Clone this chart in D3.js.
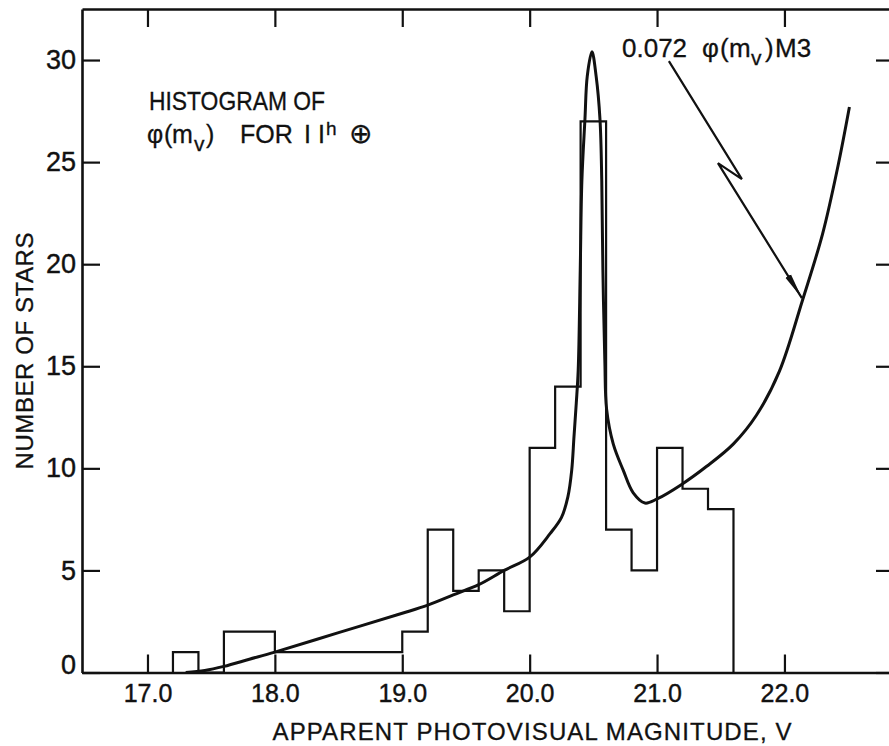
<!DOCTYPE html>
<html>
<head>
<meta charset="utf-8">
<script src="https://cdn.jsdelivr.net/npm/d3@7"></script>
<style>
  html, body { margin: 0; padding: 0; background: #fff; }
  svg { display: block; }
  text { font-family: "Liberation Sans", Arial, sans-serif; fill: #111; }
</style>
</head>
<body>
<svg id="chart" width="889" height="746"></svg>
<script>
// ---- data ----
const binStart = [17.2,17.4,17.6,17.8,18.0,18.2,18.4,18.6,18.8,19.0,19.2,19.4,19.6,19.8,20.0,20.2,20.4,20.6,20.8,21.0,21.2,21.4];
const binCounts = [1,0,2,2,1,1,1,1,1,2,7,4,5,3,11,14,27,7,5,11,9,8];
const binWidth = 0.2;

const curveMag = [17.30,17.45,17.60,17.80,18.00,18.50,19.00,19.20,19.40,19.60,19.80,20.00,20.16,20.25,20.30,20.33,20.348,20.366,20.381,20.397,20.41,20.434,20.452,20.489,20.522,20.552,20.566,20.575,20.59,20.604,20.656,20.735,20.813,20.905,21.00,21.19,21.39,21.60,21.78,21.96,22.14,22.30,22.42,22.51];
const curveVal = [0.0,0.1,0.3,0.65,1.0,1.95,2.9,3.3,3.8,4.3,5.0,5.65,6.8,7.6,8.6,9.9,11.55,13.2,14.8,19.7,24.1,27.1,29.2,30.4,29.2,27.1,24.1,19.7,15.3,12.9,11.2,9.9,8.8,8.3,8.5,9.2,10.1,11.2,12.6,14.75,18.2,21.5,24.8,27.7];

const xTickVals = [17,18,19,20,21,22];
const xTickLabels = ["17.0","18.0","19.0","20.0","21.0","22.0"];
const yTickVals = [0,5,10,15,20,25,30];
const yTickLabels = ["0","5","10","15","20","25","30"];

// annotation arrow path, in data units (magnitude, count)
const arrowMag = [21.093,21.666,21.478,22.137];
const arrowVal = [29.95,24.17,24.95,18.34];

// ---- layout ----
const svg = d3.select("#chart");
const pL = 82, pR = 894, pT = 9, pB = 672.5;

const x = d3.scaleLinear().domain([16.486, 22.86]).range([pL, pR]);
const y = d3.scaleLinear().domain([0, 32.5]).range([pB, pT]);

svg.append("defs").append("marker")
  .attr("id","ah").attr("viewBox","0 0 26 8").attr("refX",26).attr("refY",4)
  .attr("markerWidth",26).attr("markerHeight",8).attr("markerUnits","userSpaceOnUse")
  .attr("orient","auto")
  .append("path").attr("d","M0,0.8 L26,4 L0,7.2 Z").attr("fill","#111");

// axes
function styleAxis(g, showText, fs) {
  g.selectAll(".domain").attr("stroke","#111").attr("stroke-width",2.6);
  g.selectAll(".tick line").attr("stroke","#111").attr("stroke-width",2.2);
  g.selectAll(".tick text").attr("fill","#111").style("font-size", fs + "px")
    .style("font-family","'Liberation Sans', Arial, sans-serif")
    .attr("stroke","#111").attr("stroke-width",0.4);
  if (!showText) g.selectAll(".tick text").remove();
}

const gx = svg.append("g").attr("transform",`translate(0,${pB})`)
  .call(d3.axisBottom(x).tickValues(xTickVals).tickFormat((d,i)=>xTickLabels[i])
        .tickSize(-18).tickSizeOuter(0).tickPadding(12));
styleAxis(gx, true, 25);

const gxt = svg.append("g").attr("transform",`translate(0,${pT})`)
  .call(d3.axisTop(x).tickValues(xTickVals).tickSize(-18).tickSizeOuter(0));
styleAxis(gxt, false, 25);

const gy = svg.append("g").attr("transform",`translate(${pL},0)`)
  .call(d3.axisLeft(y).tickValues(yTickVals).tickFormat((d,i)=>yTickLabels[i])
        .tickSize(-18).tickSizeOuter(0).tickPadding(6));
styleAxis(gy, true, 27);
gy.selectAll(".tick text").filter(d => d === 0).attr("dy","0.05em");

const gyr = svg.append("g").attr("transform",`translate(${pR},0)`)
  .call(d3.axisRight(y).tickValues(yTickVals).tickSize(-18).tickSizeOuter(0));
styleAxis(gyr, false, 26);

// histogram outline (step)
const histPts = [[binStart[0], 0]];
binStart.forEach((b,i)=> histPts.push([b, binCounts[i]]));
histPts.push([binStart[binStart.length-1] + binWidth, 0]);
svg.append("path")
  .datum(histPts)
  .attr("fill","none").attr("stroke","#111").attr("stroke-width",2.2)
  .attr("d", d3.line().x(d=>x(d[0])).y(d=>y(d[1])).curve(d3.curveStepAfter));

// theoretical curve
const cPts = curveMag.map((m,i)=>[m, curveVal[i]]);
svg.append("path")
  .datum(cPts)
  .attr("fill","none").attr("stroke","#111").attr("stroke-width",3).attr("stroke-linejoin","round")
  .attr("d", d3.line().x(d=>x(d[0])).y(d=>y(d[1])).curve(d3.curveCatmullRom.alpha(0.5)));

// annotation arrow
const aPts = arrowMag.map((m,i)=>[m, arrowVal[i]]);
svg.append("path")
  .datum(aPts)
  .attr("fill","none").attr("stroke","#111").attr("stroke-width",2.2)
  .attr("marker-end","url(#ah)")
  .attr("d", d3.line().x(d=>x(d[0])).y(d=>y(d[1])));

// annotation label
const lab = svg.append("text").attr("x",622).attr("y",57).style("font-size","26px")
  .attr("stroke","#111").attr("stroke-width",0.3);
lab.append("tspan").text("0.072");
lab.append("tspan").attr("x",702).text("\u03C6");
lab.append("tspan").attr("x",720).text("(");
lab.append("tspan").attr("x",729).text("m");
lab.append("tspan").attr("x",751).attr("dy",8).style("font-size","21px").text("v");
lab.append("tspan").attr("x",765).attr("dy",-8).text(")");
lab.append("tspan").attr("x",775).text("M3");

// histogram label
svg.append("text").attr("x",149).attr("y",110).style("font-size","25px")
  .attr("stroke","#111").attr("stroke-width",0.3)
  .attr("textLength",176).attr("lengthAdjust","spacingAndGlyphs").text("HISTOGRAM OF");
const l2 = svg.append("text").attr("x",147).attr("y",143).style("font-size","25px")
  .attr("stroke","#111").attr("stroke-width",0.3);
l2.append("tspan").text("\u03C6");
l2.append("tspan").attr("x",164).text("(");
l2.append("tspan").attr("x",172).text("m");
l2.append("tspan").attr("x",194).attr("dy",8).style("font-size","21px").text("v");
l2.append("tspan").attr("x",206).attr("dy",-8).text(")");
l2.append("tspan").attr("x",240).text("FOR");
l2.append("tspan").attr("x",304).text("I I");
l2.append("tspan").attr("x",326).attr("dy",-8).style("font-size","19px").text("h");
l2.append("tspan").attr("dy",8).attr("x",349).style("font-size","28px").text("\u2295");

// axis titles
svg.append("text").attr("x",532).attr("y",740).attr("text-anchor","middle")
  .style("font-size","24px").attr("stroke","#111").attr("stroke-width",0.3)
  .attr("textLength",519).attr("lengthAdjust","spacing")
  .text("APPARENT PHOTOVISUAL MAGNITUDE, V");
svg.append("text").attr("transform","translate(33,351) rotate(-90)")
  .attr("text-anchor","middle").style("font-size","24px")
  .attr("stroke","#111").attr("stroke-width",0.3)
  .attr("textLength",237).attr("lengthAdjust","spacing")
  .text("NUMBER OF STARS");
</script>
</body>
</html>
